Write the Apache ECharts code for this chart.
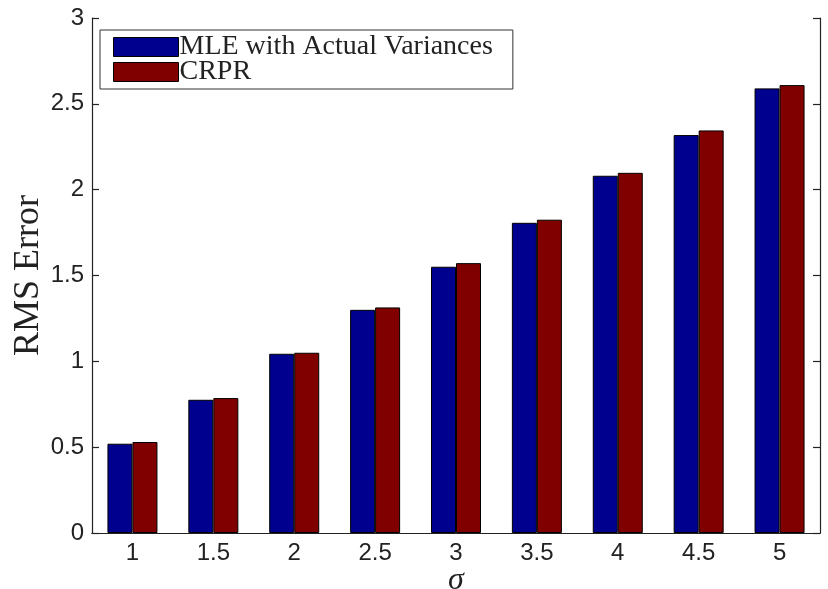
<!DOCTYPE html>
<html>
<head>
<meta charset="utf-8">
<script src="https://cdn.jsdelivr.net/npm/echarts@6/dist/echarts.min.js"></script>
<style>
  html, body { margin: 0; padding: 0; background: #fff; }
  #chart { width: 828px; height: 589px; }
</style>
</head>
<body>
<div id="chart"></div>
<script>
// sigma values on the x axis
var sigmas = ['1', '1.5', '2', '2.5', '3', '3.5', '4', '4.5', '5'];
// RMS error
var mleValues = [0.52, 0.776, 1.044, 1.30, 1.551, 1.807, 2.081, 2.318, 2.590];
var crprValues = [0.53, 0.786, 1.05, 1.314, 1.572, 1.825, 2.098, 2.345, 2.609];
var yTicks = [0, 0.5, 1, 1.5, 2, 2.5, 3];

var chart = echarts.init(document.getElementById('chart'));

var tickStyle = { color: '#222', fontSize: 24, fontFamily: 'Liberation Sans, Arial, sans-serif' };
var lineStyle = { color: '#222', width: 1.2 };

var option = {
  backgroundColor: '#fff',
  animation: false,
  grid: { left: 92, right: 8, top: 18, bottom: 56, outerBoundsMode: 'none' },
  legend: {
    orient: 'vertical',
    left: 100,
    top: 30,
    icon: 'rect',
    itemWidth: 65,
    itemHeight: 19,
    itemGap: -3,
    padding: [3, 20, 3, 13],
    backgroundColor: '#fff',
    borderColor: '#333',
    borderWidth: 1,
    borderRadius: 0,
    textStyle: { color: '#222', fontSize: 28, fontFamily: 'Liberation Serif, serif', padding: [0, 0, 0, -4] },
    data: [
      { name: 'MLE with Actual Variances', itemStyle: { color: '#00008F', borderColor: '#000', borderWidth: 1 } },
      { name: 'CRPR', itemStyle: { color: '#800000', borderColor: '#000', borderWidth: 1 } }
    ]
  },
  xAxis: [{
    type: 'category',
    data: sigmas,
    boundaryGap: true,
    name: 'σ',
    nameLocation: 'middle',
    nameGap: 32,
    nameMoveOverlap: false,
    nameTextStyle: { fontSize: 32, fontStyle: 'italic', fontFamily: 'Liberation Serif, serif', color: '#222' },
    axisLine: { lineStyle: lineStyle },
    axisTick: { inside: true, alignWithLabel: true, length: 7, lineStyle: lineStyle },
    axisLabel: Object.assign({ margin: 8 }, tickStyle),
    splitLine: { show: false }
  }, {
    type: 'category',
    data: sigmas,
    position: 'top',
    boundaryGap: true,
    axisLine: { lineStyle: lineStyle },
    axisTick: { inside: true, alignWithLabel: true, length: 7, lineStyle: lineStyle },
    axisLabel: { show: false },
    splitLine: { show: false }
  }],
  yAxis: [{
    type: 'value',
    min: yTicks[0],
    max: yTicks[yTicks.length - 1],
    interval: 0.5,
    name: 'RMS Error',
    nameLocation: 'middle',
    nameGap: 45,
    nameMoveOverlap: false,
    nameTextStyle: { fontSize: 36, fontFamily: 'Liberation Serif, serif', color: '#222' },
    axisLine: { show: true, lineStyle: lineStyle },
    axisTick: { show: true, inside: true, length: 7, lineStyle: lineStyle },
    axisLabel: Object.assign({ margin: 8 }, tickStyle),
    splitLine: { show: false }
  }, {
    type: 'value',
    position: 'right',
    min: yTicks[0],
    max: yTicks[yTicks.length - 1],
    interval: 0.5,
    axisLine: { show: true, lineStyle: lineStyle },
    axisTick: { show: true, inside: true, length: 7, lineStyle: lineStyle },
    axisLabel: { show: false },
    splitLine: { show: false }
  }],
  series: [{
    name: 'MLE with Actual Variances',
    type: 'bar',
    data: mleValues,
    barWidth: 25,
    barGap: '0%',
    itemStyle: { color: '#00008F', borderColor: '#000', borderWidth: 1 }
  }, {
    name: 'CRPR',
    type: 'bar',
    data: crprValues,
    barWidth: 25,
    barGap: '0%',
    itemStyle: { color: '#800000', borderColor: '#000', borderWidth: 1 }
  }]
};

chart.setOption(option);
</script>
</body>
</html>
